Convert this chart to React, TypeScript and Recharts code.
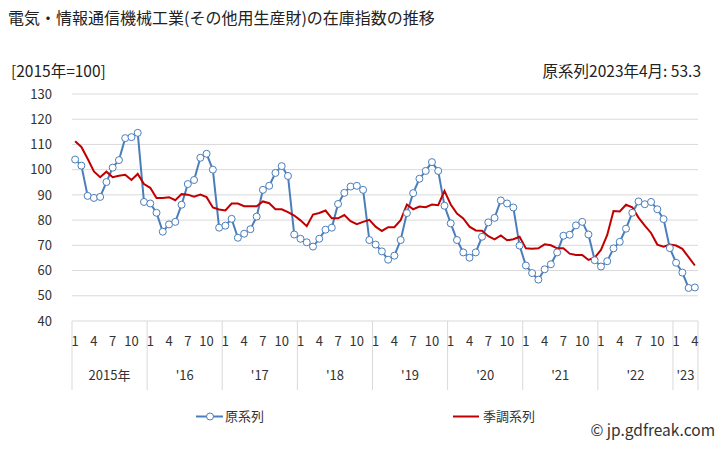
import { LineChart, Line, XAxis, YAxis, CartesianGrid } from 'recharts';

// 原系列 (Jan 2015 - Apr 2023)
const rawSeries = [
  104.0, 101.6, 89.6, 88.8, 89.2, 95.1, 100.8, 103.8, 112.5, 112.9, 114.6, 87.2,
  86.6, 82.9, 75.4, 78.3, 79.3, 86.1, 94.3, 95.9, 104.7, 106.3, 100.0, 77.0,
  77.8, 80.5, 73.0, 74.6, 76.4, 81.4, 92.0, 93.6, 98.7, 101.4, 97.5, 74.3,
  72.6, 71.2, 69.5, 72.6, 76.2, 77.0, 86.4, 90.8, 93.3, 93.6, 92.0, 72.1,
  70.3, 67.6, 64.3, 65.9, 72.1, 82.8, 90.7, 96.4, 99.5, 103.0, 99.5, 85.7,
  78.7, 72.1, 67.2, 65.1, 67.2, 73.4, 79.1, 80.9, 87.8, 86.6, 85.0, 69.9,
  62.0, 59.0, 56.4, 60.5, 62.5, 67.2, 73.8, 74.2, 77.9, 79.3, 74.3, 64.1,
  61.6, 63.7, 68.8, 71.4, 76.6, 82.9, 87.4, 86.3, 87.2, 84.3, 80.4, 68.9,
  63.1, 59.2, 53.1, 53.3,
];

// 季調系列
const adjSeries = [
  111.3, 109.0, 104.3, 99.3, 97.0, 99.2, 97.0, 97.6, 98.0, 95.9, 98.3, 94.3,
  92.8, 88.8, 88.8, 89.1, 87.9, 90.3, 90.1, 89.3, 90.1, 89.1, 85.0, 84.2,
  83.8, 86.6, 86.6, 85.5, 85.5, 85.5, 87.4, 86.7, 84.3, 84.3, 83.2, 81.8,
  79.9, 77.6, 82.2, 82.8, 83.8, 80.7, 80.7, 82.0, 79.6, 78.4, 79.3, 80.1,
  77.4, 75.7, 77.2, 77.2, 80.0, 86.2, 84.3, 85.4, 85.1, 86.2, 85.9, 91.6,
  86.2, 82.6, 80.7, 77.4, 75.9, 75.8, 73.6, 72.4, 73.9, 72.0, 72.4, 73.4,
  68.8, 68.6, 68.8, 70.4, 70.0, 68.8, 68.8, 66.7, 66.2, 66.2, 64.2, 65.1,
  68.2, 74.1, 83.6, 83.4, 86.1, 85.1, 81.0, 77.8, 74.9, 70.3, 69.5, 70.3,
  69.9, 68.6, 65.3, 62.0,
];

const monthLabels = ['1', '4', '7', '10'];
const yearLabels = ['2015年', "'16", "'17", "'18", "'19", "'20", "'21", "'22", "'23"];
const yTicks = [40, 50, 60, 70, 80, 90, 100, 110, 120, 130];

const data = rawSeries.map((v, i) => ({ i, raw: v, adj: adjSeries[i] }));

const monthTicks = data.filter((d) => d.i % 3 === 0).map((d) => d.i);
const yearCenters = yearLabels.map((_, k) => {
  const start = k * 12;
  const end = Math.min(start + 12, data.length);
  return (start + end - 1) / 2;
});
const yearEdges = [...yearLabels.map((_, k) => k * 12 - 0.5), data.length - 0.5];
const allTicks = [...yearEdges, ...yearCenters, ...monthTicks];

const font = '"Noto Sans CJK JP", "Noto Sans", sans-serif';
const BLUE = '#4A7EBB';
const RED = '#C00000';

const AxisTick = (props: any) => {
  const { x, y, payload } = props;
  const v = payload.value;
  if (yearEdges.includes(v)) {
    return <line x1={x} x2={x} y1={y} y2={y + 69} stroke="#d9d9d9" />;
  }
  const yi = yearCenters.indexOf(v);
  if (yi >= 0) {
    return (
      <text x={x} y={y + 59} textAnchor="middle" fontSize={13} fill="#333" fontFamily={font}>
        {yearLabels[yi]}
      </text>
    );
  }
  return (
    <text x={x} y={y + 25} textAnchor="middle" fontSize={13} fill="#333" fontFamily={font}>
      {monthLabels[(v % 12) / 3]}
    </text>
  );
};

export default function App() {
  return (
    <div style={{ position: 'absolute', left: 0, top: 0, width: 728, height: 450, background: '#fff', fontFamily: font, color: '#222' }}>
      <div style={{ position: 'absolute', left: 8, top: 5, fontSize: 16 }}>
        電気・情報通信機械工業(その他用生産財)の在庫指数の推移
      </div>
      <div style={{ position: 'absolute', left: 11, top: 59, fontSize: 15.5 }}>[2015年=100]</div>
      <div style={{ position: 'absolute', right: 27, top: 59, fontSize: 15.5 }}>原系列2023年4月: 53.3</div>

      <LineChart width={728} height={450} data={data} margin={{ top: 94, right: 30, left: 0, bottom: 59 }}>
        <CartesianGrid vertical={false} stroke="#d9d9d9" />
        <XAxis
          dataKey="i"
          type="number"
          domain={[-0.5, data.length - 0.5]}
          ticks={allTicks}
          interval={0}
          height={70}
          tickSize={0}
          tickMargin={0}
          tickLine={false}
          axisLine={false}
          tick={<AxisTick />}
        />
        <YAxis
          domain={[40, 130]}
          ticks={yTicks}
          interval={0}
          width={72}
          tickSize={0}
          tickMargin={20}
          tickLine={false}
          axisLine={false}
          tick={{ fontSize: 13, fill: '#333', fontFamily: font }}
        />
        <Line
          dataKey="raw"
          stroke={BLUE}
          strokeWidth={2}
          dot={{ r: 3.5, fill: '#fff', stroke: BLUE, strokeWidth: 1 }}
          isAnimationActive={false}
        />
        <Line dataKey="adj" stroke={RED} strokeWidth={2} dot={false} isAnimationActive={false} />
      </LineChart>

      <svg style={{ position: 'absolute', left: 0, top: 406 }} width={728} height={22}>
        <line x1={196} x2={223} y1={10.5} y2={10.5} stroke={BLUE} strokeWidth={2} />
        <circle cx={210} cy={10.5} r={3.5} fill="#fff" stroke={BLUE} strokeWidth={1} />
        <text x={225} y={15} fontSize={13} fill="#333" fontFamily={font}>原系列</text>
        <line x1={453} x2={479} y1={10.5} y2={10.5} stroke={RED} strokeWidth={2} />
        <text x={483} y={15} fontSize={13} fill="#333" fontFamily={font}>季調系列</text>
      </svg>
      <div style={{ position: 'absolute', right: 13, top: 418, fontSize: 15.5, color: '#333' }}>© jp.gdfreak.com</div>
    </div>
  );
}
